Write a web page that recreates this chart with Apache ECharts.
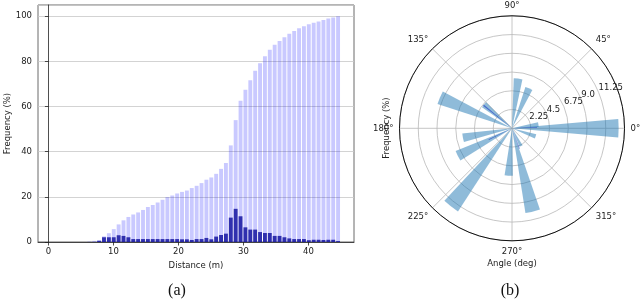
<!DOCTYPE html>
<html><head><meta charset="utf-8">
<script src="https://cdn.jsdelivr.net/npm/echarts@6/dist/echarts.min.js"></script>
<style>html,body{margin:0;padding:0;background:#fff}#c{width:640px;height:303px}</style>
</head><body><div id="c"></div>
<script>
// ---- (a) histogram of distance, bins of 0.75 m ----
const binWidth = 0.75;
const binBarOffset = 0.3;
const cumulativeFreq = [0,0,0,0,0,0,0,0,0.2,0.5,0.9,2.5,3.9,5.7,7.8,9.6,11.1,12.2,13.1,14.2,15.5,16.4,17.5,18.7,19.9,20.6,21.5,22.2,22.8,23.9,24.9,26.1,27.6,28.6,30.2,32.4,35.0,42.8,54.0,62.6,67.5,71.7,75.9,79.2,82.3,85.2,87.4,89.0,90.7,92.3,93.5,94.7,95.6,96.5,97.1,97.7,98.4,99.0,99.5,100.0];
const binFreq = [0,0,0,0,0,0,0,0,0,0,0.5,2.1,2.1,2.1,3.0,2.7,2.1,1.3,1.3,1.3,1.3,1.3,1.3,1.3,1.3,1.3,1.3,1.2,1.2,0.9,1.3,1.3,1.8,1.2,2.4,3.1,3.7,10.8,14.7,11.4,6.5,5.5,5.5,4.4,4.0,4.0,2.7,2.7,2.1,1.6,1.3,1.3,1.3,0.8,1.0,1.0,0.9,1.0,1.0,0.4];
const distanceTicks = [0,10,20,30,40];
const freqTicks = [0,20,40,60,80,100];

// ---- (b) polar histogram of angle ----
const wedgeAngles = [0, 8, 67, 83, 140, 157, 191, 207, 232, 266, 284, 297, 341];
const wedgeFreq   = [12.8, 3.2, 5.2, 6.0, 4.4, 9.4, 6.0, 7.3, 11.9, 5.7, 10.3, 2.4, 3.0];
const thinAngles = [2, 141, 206, 290];
const thinFreq   = [3.0, 4.4, 3.1, 2.6];
const radiusTicks = [0, 2.25, 4.5, 6.75, 9.0, 11.25, 13.5];
const radiusTickLabels = ['', '2.25', '4.5', '6.75', '9.0', '11.25', ''];
const angleTickLabels = ['0°','45°','90°','135°','180°','225°','270°','315°',''];

const binCenters = cumulativeFreq.map((_, i) => +(i * binWidth + binBarOffset).toFixed(3));
const cumData = binCenters.map((x, i) => [x, cumulativeFreq[i] || '-']);
const binData = binCenters.map((x, i) => [x, binFreq[i] || '-']);
const wedgeData = wedgeAngles.map((a, i) => [wedgeFreq[i], a]);
const thinData = thinAngles.map((a, i) => [thinFreq[i], a]);

const FONT = 'DejaVu Sans';
const TXT = '#222';
const CX = 512, CY = 128.3, R = 112.5;

const chart = echarts.init(document.getElementById('c'), null, {renderer: 'canvas'});
chart.setOption({
  animation: false,
  backgroundColor: '#fff',
  textStyle: {fontFamily: FONT},
  grid: {left: 38, top: 5, width: 316, height: 237, show: true, borderColor: '#444', borderWidth: 0.8},
  xAxis: {
    type: 'value', min: -1.6, max: 47,
    name: 'Distance (m)', nameLocation: 'middle', nameGap: 18,
    nameTextStyle: {fontFamily: FONT, fontSize: 8.5, color: TXT},
    axisLine: {lineStyle: {color: '#222', width: 0.8}},
    axisTick: {customValues: distanceTicks, length: 3.5, lineStyle: {color: '#222', width: 0.8}},
    axisLabel: {customValues: distanceTicks, fontFamily: FONT, fontSize: 8.5, color: TXT, margin: 5},
    splitLine: {show: false}
  },
  yAxis: {
    type: 'value', min: 0, max: 105, interval: 20,
    name: 'Frequency (%)', nameLocation: 'middle', nameGap: 25,
    nameTextStyle: {fontFamily: FONT, fontSize: 8.5, color: TXT},
    axisLine: {show: true, lineStyle: {color: '#222', width: 0.8}},
    axisTick: {show: true, length: 3.5, lineStyle: {color: '#222', width: 0.8}},
    axisLabel: {fontFamily: FONT, fontSize: 8.5, color: TXT, margin: 6, showMaxLabel: false,
      formatter: v => freqTicks.indexOf(v) >= 0 ? String(v) : ''},
    splitLine: {lineStyle: {color: '#c8c8c8', width: 0.8}}
  },
  polar: [
    {center: [CX, CY], radius: R},
    {center: [CX, CY], radius: R},
    {center: [CX, CY], radius: R}
  ],
  angleAxis: [
    {polarIndex: 0, type: 'value', min: 0, max: 360, interval: 45, startAngle: 0, clockwise: false,
      axisLine: {lineStyle: {color: '#111', width: 1}},
      axisTick: {show: false},
      axisLabel: {fontFamily: FONT, fontSize: 8.5, color: TXT, margin: 6,
        formatter: v => angleTickLabels[Math.round(v / 45)] || ''},
      splitLine: {lineStyle: {color: '#b8b8b8', width: 0.8}}},
    {polarIndex: 1, type: 'value', min: 0, max: 360, startAngle: 0, clockwise: false, show: false},
    {polarIndex: 2, type: 'value', min: 0, max: 360, startAngle: 22.5, clockwise: false, show: false}
  ],
  radiusAxis: [
    {polarIndex: 0, type: 'value', min: 0, max: 13.5, interval: 2.25,
      axisLine: {show: false}, axisTick: {show: false}, axisLabel: {show: false},
      splitLine: {lineStyle: {color: '#b8b8b8', width: 0.8}}},
    {polarIndex: 1, type: 'value', min: 0, max: 13.5, show: false},
    {polarIndex: 2, type: 'value', min: 0, max: 13.5, interval: 2.25,
      axisLine: {show: false}, axisTick: {show: false}, splitLine: {show: false},
      axisLabel: {fontFamily: FONT, fontSize: 8.5, color: TXT, margin: 0, align: 'left', verticalAlign: 'bottom',
        formatter: v => radiusTickLabels[radiusTicks.indexOf(v)] || ''}}
  ],
  graphic: [
    {type: 'text', x: 177, y: 291, style: {text: '(a)', font: '16px "Liberation Serif"', fill: '#111', align: 'center', verticalAlign: 'middle'}},
    {type: 'text', x: 510, y: 291, style: {text: '(b)', font: '16px "Liberation Serif"', fill: '#111', align: 'center', verticalAlign: 'middle'}},
    {type: 'text', x: 512, y: 264, style: {text: 'Angle (deg)', font: '8.5px "DejaVu Sans"', fill: TXT, align: 'center', verticalAlign: 'middle'}},
    {type: 'text', x: 387, y: 128, rotation: Math.PI / 2, style: {text: 'Frequency (%)', font: '8.5px "DejaVu Sans"', fill: TXT, align: 'center', verticalAlign: 'middle'}}
  ],
  series: [
    {type: 'bar', xAxisIndex: 0, yAxisIndex: 0, data: cumData, barWidth: 3.9, barGap: '-100%',
      itemStyle: {color: 'rgba(0,0,255,0.21)'}, z: 2},
    {type: 'bar', xAxisIndex: 0, yAxisIndex: 0, data: binData, barWidth: 3.9, barGap: '-100%',
      itemStyle: {color: 'rgba(20,20,160,0.85)'}, z: 3},
    {type: 'bar', coordinateSystem: 'polar', polarIndex: 0, data: wedgeData, barWidth: 10,
      itemStyle: {color: 'rgba(31,119,180,0.5)'}, z: 2},
    {type: 'bar', coordinateSystem: 'polar', polarIndex: 1, data: thinData, barWidth: 2,
      itemStyle: {color: 'rgba(45,75,200,0.75)'}, z: 3}
  ]
});
</script></body></html>
